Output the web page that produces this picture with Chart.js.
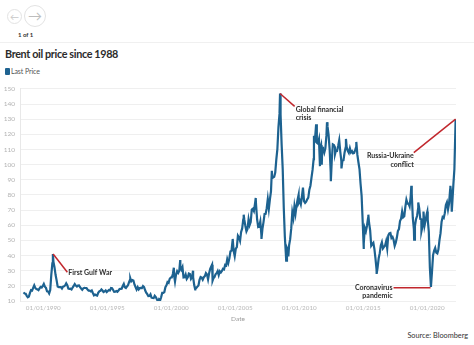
<!DOCTYPE html>
<html>
<head>
<meta charset="utf-8">
<script src="https://cdn.jsdelivr.net/npm/chart.js@4.4.0/dist/chart.umd.min.js"></script>
<style>
  html, body { margin:0; padding:0; background:#fff; }
  body { width:474px; height:345px; position:relative; overflow:hidden; font-family:Lato, "Noto Sans", sans-serif; color:#333; }
  .nav { position:absolute; border-radius:50%; border:1px solid #e3e3e3; box-sizing:border-box; color:#c8c8c8; text-align:center; }
  #prev { left:7px; top:9px; width:15px; height:15px; font-size:9px; line-height:13px; }
  #next { left:24px; top:5px; width:22px; height:22px; font-size:14px; line-height:20px; color:#bdbdbd; }
  #pages { position:absolute; left:18px; top:31px; font-size:6px; font-weight:bold; color:#333; }
  #sep { position:absolute; left:0; top:42px; width:474px; height:1px; background:#f0f0f0; }
  #title { position:absolute; left:5px; top:47px; font-size:10.8px; font-weight:bold; color:#2b2b2b; letter-spacing:-0.35px; white-space:nowrap; }
  #legend { position:absolute; left:5px; top:67px; font-size:7px; color:#555; white-space:nowrap; letter-spacing:-0.1px; }
  #legend span.sw { display:inline-block; width:4.5px; height:7px; border-radius:1px; background:#1f6391; vertical-align:-1px; margin-right:1.5px; }
  #source { position:absolute; right:6px; top:331px; font-size:7.3px; color:#333; white-space:nowrap; }
  #wrap { position:absolute; left:0; top:80px; width:474px; height:250px; }
</style>
</head>
<body>
<div class="nav" id="prev">&#8592;</div>
<div class="nav" id="next">&#8594;</div>
<div id="pages">1 of 1</div>
<div id="sep"></div>
<div id="title">Brent oil price since 1988</div>
<div id="legend"><span class="sw"></span>Last Price</div>
<div id="source">Source: Bloomberg</div>
<div id="wrap"><canvas id="c" width="474" height="250"></canvas></div>
<script>
// ---- Data (monthly levels, USD/bbl), starting June 1988 ----
const firstYear = 1988;
const firstMonth = 5; // June (0-based)
const prices1988to1993 = [
  15.7, 14.9, 14.8, 13.4, 12.5, 12.9, 15.3,
  17.2, 16.9, 18.7, 20.3, 18.6, 17.9, 17.7, 17.2, 18.3, 19.3, 18.9, 19.9,
  21.3, 19.5, 18.7, 16.4, 16.3, 15.0, 17.2, 27.2, 34.9, 36.0, 32.3, 27.3,
  23.6, 19.5, 19.1, 19.2, 19.2, 18.3, 19.5, 19.7, 20.3, 21.7, 20.5, 18.2,
  18.0, 18.1, 17.6, 18.9, 19.9, 21.2, 20.2, 19.6, 20.2, 20.3, 19.1, 18.2,
  17.4, 18.4, 18.7, 18.6, 18.5, 17.6, 16.8, 16.8, 16.3, 16.9, 15.3, 13.8
];
const prices1994to2001 = [
  14.3, 13.8, 13.6, 15.4, 16.4, 16.7, 17.6, 16.9, 15.9, 16.3, 17.0, 15.9,
  16.6, 17.2, 17.0, 18.6, 18.4, 17.3, 16.0, 16.1, 16.6, 16.1, 16.9, 17.9,
  18.0, 18.1, 19.9, 21.3, 19.1, 18.6, 19.6, 20.5, 22.6, 24.3, 23.0, 23.8,
  23.5, 20.9, 19.2, 17.6, 19.1, 17.6, 18.5, 18.6, 18.5, 19.9, 19.2, 17.1,
  15.5, 14.5, 13.2, 13.3, 14.4, 12.2, 12.0, 11.9, 13.4, 12.6, 11.1, 9.8,
  11.1, 10.3, 12.5, 15.3, 15.3, 15.9, 19.1, 20.3, 22.5, 22.0, 24.6, 25.5,
  25.5, 27.8, 27.5, 22.8, 27.6, 29.7, 28.5, 29.8, 33.0, 30.9, 32.5, 25.5,
  25.6, 27.5, 24.5, 25.6, 28.1, 27.8, 24.6, 25.7, 25.7, 20.5, 18.9, 18.6
];
const prices2002to2009 = [
  19.5, 20.3, 24.0, 25.8, 25.4, 24.1, 25.7, 26.4, 28.4, 27.5, 24.3, 28.3,
  31.2, 32.8, 30.3, 25.0, 25.8, 27.6, 28.4, 29.8, 27.1, 29.6, 28.8, 29.8,
  31.3, 30.9, 33.8, 33.4, 37.6, 35.2, 38.2, 42.7, 43.2, 49.8, 43.1, 39.6,
  44.5, 45.5, 53.1, 51.9, 49.7, 55.6, 57.9, 63.8, 63.7, 59.5, 56.0, 57.6,
  63.9, 60.1, 62.1, 70.4, 70.9, 69.4, 74.0, 73.7, 63.8, 59.0, 59.5, 62.5,
  53.7, 57.6, 62.1, 67.4, 67.5, 71.3, 77.2, 70.8, 77.1, 82.3, 92.5, 91.5,
  92.0, 94.8, 103.3, 110.2, 124.6, 133.5, 133.0, 113.2, 97.2, 71.6, 52.5, 40.4,
  44.9, 43.1, 46.8, 50.8, 57.9, 68.6, 64.9, 72.5, 67.7, 73.2, 77.0, 74.7
];
const prices2010to2016 = [
  76.2, 73.8, 78.8, 84.8, 75.9, 74.8, 75.6, 77.1, 78.2, 83.5, 86.1, 91.5,
  96.5, 103.7, 114.6, 123.3, 114.5, 113.9, 116.7, 110.2, 112.8, 109.6, 110.5, 107.9,
  110.7, 119.3, 125.5, 119.8, 110.3, 95.2, 102.6, 113.4, 113.0, 111.5, 109.5, 109.2,
  112.3, 116.1, 108.5, 102.3, 102.6, 102.9, 107.9, 111.3, 111.6, 109.1, 107.8, 110.8,
  108.1, 108.9, 107.5, 107.8, 109.7, 111.9, 106.6, 101.6, 97.1, 87.4, 79.4, 62.3,
  47.8, 58.1, 56.0, 59.5, 64.6, 61.5, 56.6, 46.5, 47.6, 48.4, 44.3, 38.0,
  30.7, 32.2, 38.2, 41.6, 46.7, 48.8, 44.7, 45.7, 46.6, 49.5, 44.7, 53.3
];
const prices2017to2022 = [
  54.6, 54.9, 51.6, 52.3, 50.3, 46.4, 48.5, 51.7, 56.2, 57.5, 62.7, 64.4,
  69.1, 65.3, 66.0, 72.1, 76.9, 74.4, 74.3, 72.5, 78.9, 81.0, 64.8, 57.4,
  59.4, 64.0, 66.1, 71.2, 71.3, 64.2, 63.9, 59.0, 62.8, 59.7, 63.2, 67.3,
  63.7, 55.7, 32.0, 19.3, 29.4, 40.3, 43.2, 45.0, 41.9, 41.4, 43.9, 50.2,
  54.8, 62.3, 65.4, 64.8, 68.0, 73.4, 75.2, 70.5, 74.5, 83.5, 81.1, 74.2,
  86.5, 97.1
];
// Daily highs/lows visible on the chart (decimal year, price)
const extremeDates  = [1990.75, 1996.80, 1998.96, 2000.20, 2000.70, 2001.70, 2001.87, 2003.19, 2003.25, 2004.80, 2005.66, 2006.60, 2007.05, 2007.86, 2008.50, 2008.98, 2009.15, 2009.95, 2011.15, 2011.32, 2011.62, 2011.76, 2012.17, 2012.47, 2012.80, 2013.30, 2013.65, 2014.46, 2015.04, 2015.40, 2016.05, 2018.76, 2018.98, 2019.30, 2019.55, 2019.71, 2020.01, 2021.81, 2021.92, 2022.22];
const extremePrices = [41.0,    25.0,    9.6,     32.0,    37.0,    30.0,    17.7,    34.0,    23.5,    51.0,    67.0,    78.0,    51.0,    96.0,    147.0,   36.6,    39.5,    80.0,    119.0,   126.6,   99.0,    100.0,   128.0,   89.0,    107.0,   97.5,    117.0,   115.0,   45.0,    67.0,    27.9,    86.0,    50.5,    75.0,    56.0,    69.0,    69.0,    86.0,    69.0,    130.0];

const tickYears = [1990, 1995, 2000, 2005, 2010, 2015, 2020];
const yTicks = [10, 20, 30, 40, 50, 60, 70, 80, 90, 100, 110, 120, 130, 140, 150];

// ---- Build points ----
const monthly = [].concat(prices1988to1993, prices1994to2001, prices2002to2009, prices2010to2016, prices2017to2022);
let points = monthly.map((v, i) => {
  const m = firstMonth + i;
  return { x: firstYear + (m + 0.5) / 12, y: v };
});
extremeDates.forEach((d, i) => points.push({ x: d, y: extremePrices[i] }));
points.sort((a, b) => a.x - b.x);

const LINE = '#1d6290';
const RED = '#c1272d';
const FONT = 'Lato, "Noto Sans", sans-serif';

const annotations = [
  { from: { x: 1990.77, y: 41 },  to: { x: 1991.88, y: 29.0 },  lines: ['First Gulf War'], align: 'left', dx: 1, dy: 1 },
  { from: { x: 2008.50, y: 147 }, to: { x: 2009.64, y: 138.5 }, lines: ['Global financial', 'crisis'], align: 'left', dx: 1, dy: 3 },
  { from: { x: 2022.22, y: 130 }, to: { x: 2018.95, y: 107.9 }, lines: ['Russia-Ukraine', 'conflict'], align: 'right', dx: 0, dy: 3.5 },
  { from: { x: 2020.26, y: 18.8 }, to: { x: 2017.37, y: 18.8 }, lines: ['Coronavirus', 'pandemic'], align: 'right', dx: -1, dy: 0 }
];

const annotationPlugin = {
  id: 'notes',
  afterDatasetsDraw(chart) {
    const { ctx, scales: { x, y } } = chart;
    ctx.save();
    annotations.forEach(a => {
      const x1 = x.getPixelForValue(a.from.x), y1 = y.getPixelForValue(a.from.y);
      const x2 = x.getPixelForValue(a.to.x), y2 = y.getPixelForValue(a.to.y);
      ctx.strokeStyle = RED;
      ctx.lineWidth = 1.5;
      ctx.beginPath(); ctx.moveTo(x1, y1); ctx.lineTo(x2, y2); ctx.stroke();
      ctx.fillStyle = '#2e2e2e';
      ctx.font = 'bold 7px ' + FONT;
      ctx.textAlign = a.align;
      ctx.textBaseline = 'middle';
      a.lines.forEach((t, i) => ctx.fillText(t, x2 + a.dx, y2 + a.dy + i * 8.3));
    });
    ctx.restore();
  }
};

new Chart(document.getElementById('c'), {
  type: 'line',
  data: { datasets: [{ label: 'Last Price', data: points, borderColor: LINE, backgroundColor: LINE, borderWidth: 2.2, pointRadius: 0, tension: 0, fill: false }] },
  options: {
    responsive: false, animation: false,
    layout: { padding: { top: 5, right: 18, left: 0, bottom: 0 } },
    plugins: { legend: { display: false }, tooltip: { enabled: false } },
    scales: {
      x: {
        type: 'linear', min: 1988.18, max: 2022.25,
        grid: { display: false, drawTicks: false },
        border: { display: false },
        afterBuildTicks: s => { s.ticks = tickYears.map(v => ({ value: v })); },
        afterFit: s => { s.height = 29; },
        ticks: { callback: v => '01/01/' + v, font: { size: 6.3, family: FONT }, color: '#b8b8b8', padding: 3, maxRotation: 0, autoSkip: false },
        title: { display: true, text: 'Date', font: { size: 6.5, family: FONT }, color: '#9a9a9a', padding: { top: 2, bottom: 7 } }
      },
      y: {
        min: 10, max: 150,
        afterBuildTicks: s => { s.ticks = yTicks.map(v => ({ value: v })); },
        afterFit: s => { s.width = 20; },
        grid: { color: '#efefef', drawTicks: false, lineWidth: 1 },
        border: { display: true, color: '#e8e8e8' },
        ticks: { font: { size: 6.5, family: FONT }, color: '#b3b3b3', padding: 5 }
      }
    }
  },
  plugins: [annotationPlugin]
});
</script>
</body>
</html>
